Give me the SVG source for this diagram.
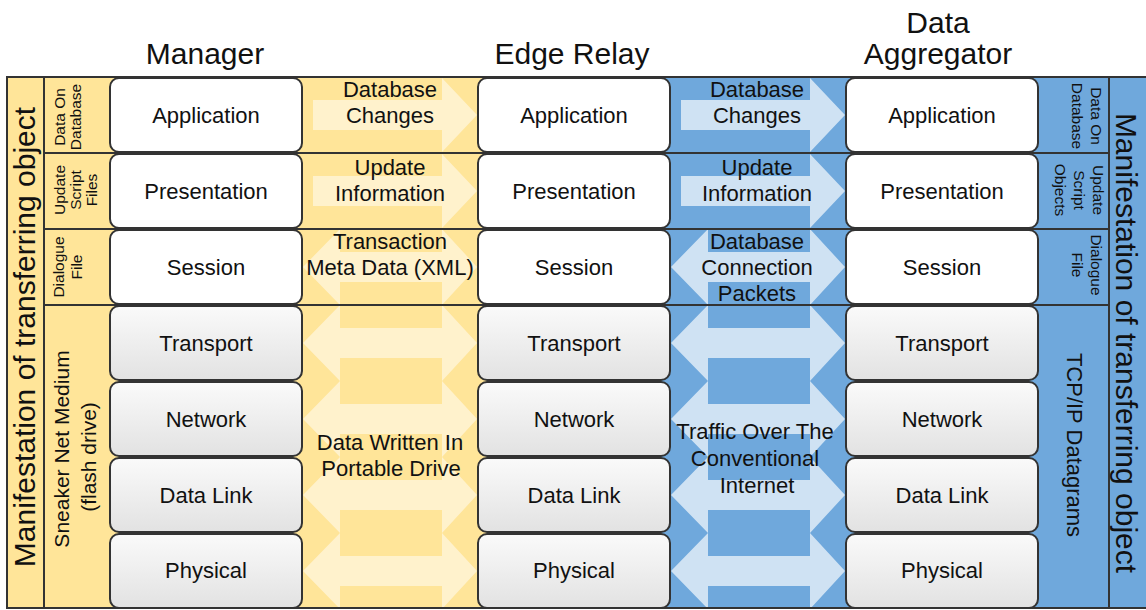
<svg xmlns="http://www.w3.org/2000/svg" width="1146" height="610" viewBox="0 0 1146 610">
<style>
text { font-family: "Liberation Sans", Arial, sans-serif; fill: #111; }
.title { font-size: 30px; text-anchor: middle; }
.big { font-size: 30px; text-anchor: middle; }
.lbl { font-size: 22px; text-anchor: middle; }
.sm { font-size: 15.5px; text-anchor: middle; }
.mid { font-size: 21px; text-anchor: middle; }
.line { stroke: #333; stroke-width: 2; fill: none; }
.wbox { fill: #fff; stroke: #333; stroke-width: 2; }
.gbox { fill: url(#gray); stroke: #333; stroke-width: 2; }
.ya { fill: #FFF2CC; }
.ba { fill: #CFE2F3; }
</style>
<defs>
<linearGradient id="gray" x1="0" y1="0" x2="0" y2="1">
<stop offset="0" stop-color="#FAFAFA"/>
<stop offset="1" stop-color="#E2E2E2"/>
</linearGradient>
<path id="arrR" d="M11,23 H140 V1 L175,38 L140,75 V53 H11 Z"/>
<path id="arrD" d="M1,38 L38,0 V23 H140 V0 L175,38 L140,76 V53 H38 V76 Z"/>
<rect id="box" x="0" y="1" width="192" height="74" rx="9" ry="9"/>
</defs>

<!-- backgrounds -->
<rect x="7" y="77" width="567" height="531" fill="#FFE599"/>
<rect x="574" y="77" width="573" height="531" fill="#6FA8DC"/>

<!-- transfer arrows -->
<g id="connectors">
<g class="ya">
<use href="#arrR" transform="translate(302,77)"/>
<use href="#arrR" transform="translate(302,153)"/>
<use href="#arrD" transform="translate(302,229)"/>
<use href="#arrD" transform="translate(302,305)"/>
<use href="#arrD" transform="translate(302,381)"/>
<use href="#arrD" transform="translate(302,457)"/>
<use href="#arrD" transform="translate(302,533)"/>
</g>
<g class="ba">
<use href="#arrR" transform="translate(670,77)"/>
<use href="#arrR" transform="translate(670,153)"/>
<use href="#arrD" transform="translate(670,229)"/>
<use href="#arrD" transform="translate(670,305)"/>
<use href="#arrD" transform="translate(670,381)"/>
<use href="#arrD" transform="translate(670,457)"/>
<use href="#arrD" transform="translate(670,533)"/>
</g>
</g>

<!-- grid lines -->
<g id="grid" class="line">
<rect x="7" y="77" width="37" height="531"/>
<rect x="1109" y="77" width="40" height="531"/>
<line x1="7" y1="77" x2="1146" y2="77"/>
<line x1="7" y1="608" x2="1146" y2="608"/>
<line x1="44" y1="153" x2="1109" y2="153"/>
<line x1="44" y1="229" x2="1109" y2="229"/>
<line x1="44" y1="305" x2="1109" y2="305"/>
</g>

<!-- titles -->
<g id="titles">
<text class="title" x="205" y="64">Manager</text>
<text class="title" x="572" y="64">Edge Relay</text>
<text class="title" x="938" y="33">Data</text>
<text class="title" x="938" y="64">Aggregator</text>
</g>

<!-- side labels -->
<g id="left-manifestation"><text class="big" transform="translate(35,337) rotate(-90)">Manifestation of transferring object</text></g>
<g id="right-manifestation"><text class="big" transform="translate(1116,343) rotate(90)">Manifestation of transferring object</text></g>

<g id="left-labels">
<text class="sm" transform="translate(60,117) rotate(-90)"><tspan x="0" y="5">Data On</tspan><tspan x="0" y="21">Database</tspan></text>
<text class="sm" transform="translate(60,190) rotate(-90)"><tspan x="0" y="5">Update</tspan><tspan x="0" y="21">Script</tspan><tspan x="0" y="37">Files</tspan></text>
<text class="sm" transform="translate(60,267) rotate(-90)"><tspan x="0" y="4">Dialogue</tspan><tspan x="0" y="22">File</tspan></text>
<text class="mid" transform="translate(60,452) rotate(-90)"><tspan x="3" y="9">Sneaker Net Medium</tspan><tspan x="-5" y="36">(flash drive)</tspan></text>
</g>

<g id="right-labels">
<text class="sm" transform="translate(1100,116) rotate(90)"><tspan x="0" y="9">Data On</tspan><tspan x="0" y="28">Database</tspan></text>
<text class="sm" transform="translate(1100,190) rotate(90)"><tspan x="0" y="7">Update</tspan><tspan x="0" y="26">Script</tspan><tspan x="0" y="45">Objects</tspan></text>
<text class="sm" transform="translate(1100,265) rotate(90)"><tspan x="0" y="9">Dialogue</tspan><tspan x="0" y="28">File</tspan></text>
<text class="lbl" transform="translate(1075,445) rotate(90)" y="8">TCP/IP Datagrams</text>
</g>

<!-- Manager stack -->
<g id="manager-application"><use href="#box" class="wbox" transform="translate(110,77)"/><text class="lbl" x="206" y="123">Application</text></g>
<g id="manager-presentation"><use href="#box" class="wbox" transform="translate(110,153)"/><text class="lbl" x="206" y="199">Presentation</text></g>
<g id="manager-session"><use href="#box" class="wbox" transform="translate(110,229)"/><text class="lbl" x="206" y="275">Session</text></g>
<g id="manager-transport"><use href="#box" class="gbox" transform="translate(110,305)"/><text class="lbl" x="206" y="351">Transport</text></g>
<g id="manager-network"><use href="#box" class="gbox" transform="translate(110,381)"/><text class="lbl" x="206" y="427">Network</text></g>
<g id="manager-datalink"><use href="#box" class="gbox" transform="translate(110,457)"/><text class="lbl" x="206" y="503">Data Link</text></g>
<g id="manager-physical"><use href="#box" class="gbox" transform="translate(110,533)"/><text class="lbl" x="206" y="578">Physical</text></g>

<!-- Edge Relay stack -->
<g id="relay-application"><use href="#box" class="wbox" transform="translate(478,77)"/><text class="lbl" x="574" y="123">Application</text></g>
<g id="relay-presentation"><use href="#box" class="wbox" transform="translate(478,153)"/><text class="lbl" x="574" y="199">Presentation</text></g>
<g id="relay-session"><use href="#box" class="wbox" transform="translate(478,229)"/><text class="lbl" x="574" y="275">Session</text></g>
<g id="relay-transport"><use href="#box" class="gbox" transform="translate(478,305)"/><text class="lbl" x="574" y="351">Transport</text></g>
<g id="relay-network"><use href="#box" class="gbox" transform="translate(478,381)"/><text class="lbl" x="574" y="427">Network</text></g>
<g id="relay-datalink"><use href="#box" class="gbox" transform="translate(478,457)"/><text class="lbl" x="574" y="503">Data Link</text></g>
<g id="relay-physical"><use href="#box" class="gbox" transform="translate(478,533)"/><text class="lbl" x="574" y="578">Physical</text></g>

<!-- Data Aggregator stack -->
<g id="agg-application"><use href="#box" class="wbox" transform="translate(846,77)"/><text class="lbl" x="942" y="123">Application</text></g>
<g id="agg-presentation"><use href="#box" class="wbox" transform="translate(846,153)"/><text class="lbl" x="942" y="199">Presentation</text></g>
<g id="agg-session"><use href="#box" class="wbox" transform="translate(846,229)"/><text class="lbl" x="942" y="275">Session</text></g>
<g id="agg-transport"><use href="#box" class="gbox" transform="translate(846,305)"/><text class="lbl" x="942" y="351">Transport</text></g>
<g id="agg-network"><use href="#box" class="gbox" transform="translate(846,381)"/><text class="lbl" x="942" y="427">Network</text></g>
<g id="agg-datalink"><use href="#box" class="gbox" transform="translate(846,457)"/><text class="lbl" x="942" y="503">Data Link</text></g>
<g id="agg-physical"><use href="#box" class="gbox" transform="translate(846,533)"/><text class="lbl" x="942" y="578">Physical</text></g>

<!-- connector labels -->
<g id="connector-labels">
<text class="lbl"><tspan x="390" y="97">Database</tspan><tspan x="390" y="123">Changes</tspan></text>
<text class="lbl"><tspan x="390" y="175">Update</tspan><tspan x="390" y="201">Information</tspan></text>
<text class="lbl"><tspan x="390" y="249">Transaction</tspan><tspan x="390" y="275">Meta Data (XML)</tspan></text>
<text class="lbl"><tspan x="390" y="450">Data Written In</tspan><tspan x="391" y="476">Portable Drive</tspan></text>
<text class="lbl"><tspan x="757" y="97">Database</tspan><tspan x="757" y="123">Changes</tspan></text>
<text class="lbl"><tspan x="757" y="175">Update</tspan><tspan x="757" y="201">Information</tspan></text>
<text class="lbl"><tspan x="757" y="249">Database</tspan><tspan x="757" y="275">Connection</tspan><tspan x="757" y="301">Packets</tspan></text>
<text class="lbl"><tspan x="755" y="439">Traffic Over The</tspan><tspan x="755" y="466">Conventional</tspan><tspan x="757" y="493">Internet</tspan></text>
</g>
</svg>
